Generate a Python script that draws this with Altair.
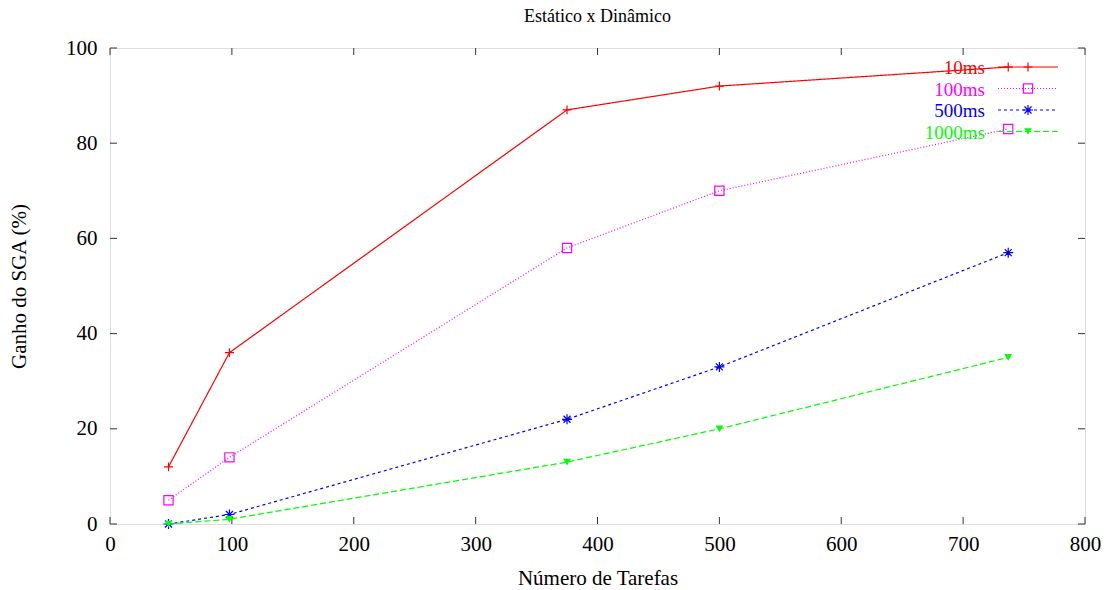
import altair as alt
import pandas as pd

tarefas = [48, 98, 375, 500, 737]
series = ["10ms", "100ms", "500ms", "1000ms"]
ganho_10 = [12, 36, 87, 92, 96]
ganho_100 = [5, 14, 58, 70, 83]
ganho_500 = [0, 2, 22, 33, 57]
ganho_1000 = [0, 1, 13, 20, 35]
x_ticks = [0, 100, 200, 300, 400, 500, 600, 700, 800]
y_ticks = [0, 20, 40, 60, 80, 100]

colors = ["#ff0000", "#ff00ff", "#0000ff", "#00ff00"]
dashes = [[1, 0], [1, 2], [3, 3], [6, 3]]
plus = "M-1,0L1,0M0,-1L0,1"
star = "M-1,0L1,0M0,-1L0,1M-0.7,-0.7L0.7,0.7M-0.7,0.7L0.7,-0.7"
shapes = [plus, "square", star, "triangle-down"]
sizes = [80, 85, 100, 60]
filled = [False, False, False, True]

FONT = "Liberation Serif"
FS = 21
W, H = 975, 476

xs = alt.Scale(domain=[0, 800], nice=False)
ys = alt.Scale(domain=[0, 100], nice=False)

all_vals = [ganho_10, ganho_100, ganho_500, ganho_1000]
layers = []

axis_df = pd.DataFrame({"x": [0], "y": [0]})
base_axes = alt.Chart(axis_df).mark_point(opacity=0).encode(
    x=alt.X("x:Q", scale=xs, title="Número de Tarefas",
            axis=alt.Axis(values=x_ticks, ticks=False, grid=False, domain=False,
                          labelFont=FONT, labelFontSize=FS, labelColor="black",
                          labelPadding=9, titleFont=FONT, titleFontSize=FS,
                          titleFontWeight="normal", titleColor="black", titlePadding=13,
                          labelFlush=False)),
    y=alt.Y("y:Q", scale=ys, title="Ganho do SGA (%)",
            axis=alt.Axis(values=y_ticks, ticks=False, grid=False, domain=False,
                          labelFont=FONT, labelFontSize=FS, labelColor="black",
                          labelPadding=13, titleFont=FONT, titleFontSize=FS,
                          titleFontWeight="normal", titleColor="black", titlePadding=36,
                          labelFlush=False)),
)
layers.append(base_axes)

xt = pd.DataFrame({"t": x_ticks})
yt = pd.DataFrame({"t": y_ticks})
tick_style = dict(color="#333333", strokeWidth=1)
layers.append(alt.Chart(xt).mark_rule(**tick_style).encode(
    x=alt.X("t:Q", scale=xs), y=alt.value(H), y2=alt.value(H - 7)))
layers.append(alt.Chart(xt).mark_rule(**tick_style).encode(
    x=alt.X("t:Q", scale=xs), y=alt.value(0), y2=alt.value(7)))
layers.append(alt.Chart(yt).mark_rule(**tick_style).encode(
    y=alt.Y("t:Q", scale=ys), x=alt.value(0), x2=alt.value(7)))
layers.append(alt.Chart(yt).mark_rule(**tick_style).encode(
    y=alt.Y("t:Q", scale=ys), x=alt.value(W), x2=alt.value(W - 7)))

for i, name in enumerate(series):
    df = pd.DataFrame({"x": tarefas, "y": all_vals[i]})
    layers.append(alt.Chart(df).mark_line(color=colors[i], strokeWidth=1.2,
                                           strokeDash=dashes[i]).encode(
        x=alt.X("x:Q", scale=xs), y=alt.Y("y:Q", scale=ys)))
    layers.append(alt.Chart(df).mark_point(shape=shapes[i], size=sizes[i],
                                            filled=filled[i], color=colors[i],
                                            strokeWidth=1.2, opacity=1).encode(
        x=alt.X("x:Q", scale=xs), y=alt.Y("y:Q", scale=ys)))

leg_y0 = 19
leg_dy = 21.5
for i, name in enumerate(series):
    yy = leg_y0 + i * leg_dy
    ldf = pd.DataFrame({"label": [name]})
    layers.append(alt.Chart(ldf).mark_text(align="right", baseline="middle",
                                            font=FONT, fontSize=19, color=colors[i]).encode(
        text="label:N", x=alt.value(875), y=alt.value(yy + 1)))
    layers.append(alt.Chart(ldf).mark_rule(color=colors[i], strokeWidth=1.2,
                                            strokeDash=dashes[i]).encode(
        x=alt.value(888), x2=alt.value(948), y=alt.value(yy)))
    layers.append(alt.Chart(ldf).mark_point(shape=shapes[i], size=sizes[i],
                                             filled=filled[i], color=colors[i],
                                             strokeWidth=1.2, opacity=1).encode(
        x=alt.value(918), y=alt.value(yy)))

chart = alt.layer(*layers).properties(
    width=W, height=H,
    title=alt.Title("Estático x Dinâmico", font=FONT, fontSize=18,
                    fontWeight="normal", color="black", anchor="middle", offset=11),
    autosize=alt.AutoSizeParams(type="none"),
    padding={"left": 110, "top": 48, "right": 23, "bottom": 66},
).configure_view(stroke="black", strokeWidth=1.5).configure(background="white")

chart.save("out.html", embed_options={"renderer": "svg", "actions": False})
